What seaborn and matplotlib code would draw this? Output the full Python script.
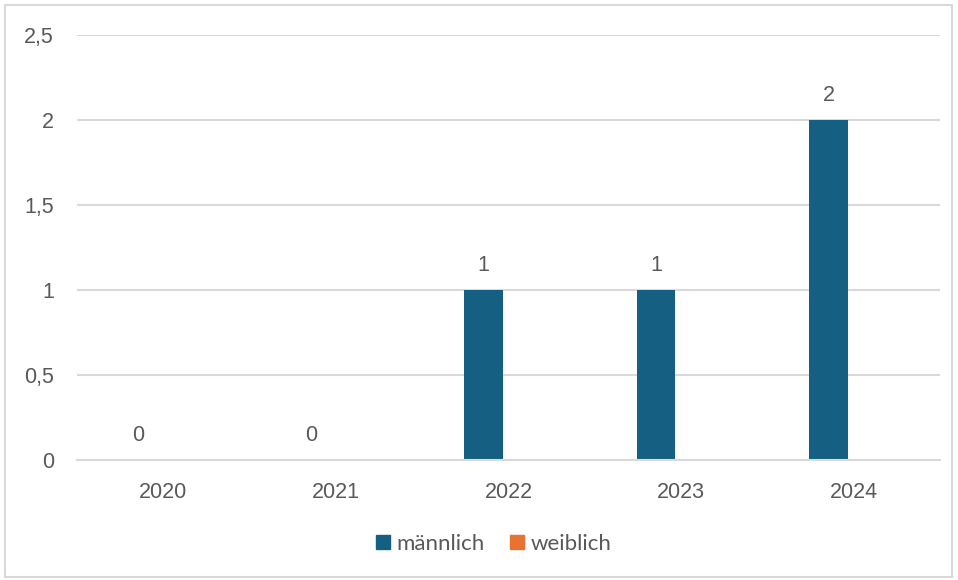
import numpy as np
import pandas as pd
import matplotlib
matplotlib.use("Agg")
import matplotlib.pyplot as plt
from matplotlib.patches import Rectangle
from matplotlib.lines import Line2D
import seaborn as sns

years = ["2020", "2021", "2022", "2023", "2024"]
maennlich = [0, 0, 1, 1, 2]
weiblich = [np.nan, np.nan, np.nan, np.nan, np.nan]
series_names = ["männlich", "weiblich"]
colors = ["#156082", "#E97132"]
y_ticks = [0, 0.5, 1, 1.5, 2, 2.5]

df = pd.DataFrame({
    "Jahr": years * 2,
    "Geschlecht": [series_names[0]] * len(years) + [series_names[1]] * len(years),
    "Anzahl": maennlich + weiblich,
})

sns.set_theme(style="white")
plt.rcParams["font.family"] = ["Liberation Sans", "DejaVu Sans"]
text_color = "#595959"
grid_color = "#D9D9D9"
fs = 15.5

fig = plt.figure(figsize=(9.58, 5.8), dpi=100)
ax = fig.add_axes([77 / 958, 1 - 460 / 580, (940 - 77) / 958, (460 - 35) / 580])

sns.barplot(data=df, x="Jahr", y="Anzahl", hue="Geschlecht", order=years,
            hue_order=series_names, palette=colors, width=0.58, gap=0.233,
            saturation=1, ax=ax, legend=False, errorbar=None, linewidth=0)

ax.set_ylim(0, 2.5)
ax.set_xlim(-0.5, len(years) - 0.5)
ax.set_yticks(y_ticks)
ax.set_yticklabels([f"{v:g}".replace(".", ",") for v in y_ticks])
ax.set_xlabel("")
ax.set_ylabel("")
ax.yaxis.grid(True, color=grid_color, linewidth=1.5)
ax.set_axisbelow(True)
for s in ["top", "right", "left"]:
    ax.spines[s].set_visible(False)
ax.spines["bottom"].set_color(grid_color)
ax.spines["bottom"].set_linewidth(1.5)
ax.tick_params(axis="y", length=0, pad=16.5, labelsize=fs, labelcolor=text_color)
ax.tick_params(axis="x", length=0, pad=16, labelsize=fs, labelcolor=text_color)

# value labels for the male series only (female series has no data)
male_bars = ax.containers[0]
ax.bar_label(male_bars, labels=[str(v) for v in maennlich], padding=10,
             fontsize=fs, color=text_color)

handles = [Line2D([], [], marker="s", linestyle="", markersize=10,
                  markerfacecolor=c, markeredgecolor=c) for c in colors]
fig.legend(handles, series_names, loc="center", bbox_to_anchor=(492 / 958, 1 - 544 / 580),
           ncol=2, frameon=False, labelcolor=text_color,
           handletextpad=0.15, columnspacing=1.0, handlelength=0.9,
           prop={"family": ["Lato", "DejaVu Sans"], "size": 16})

fig.patches.append(Rectangle((5 / 958, 3 / 580), 947 / 958, 572 / 580,
                             transform=fig.transFigure, fill=False,
                             edgecolor="#D9D9D9", linewidth=1.5))

fig.savefig("out.png", dpi=100, facecolor="white")
